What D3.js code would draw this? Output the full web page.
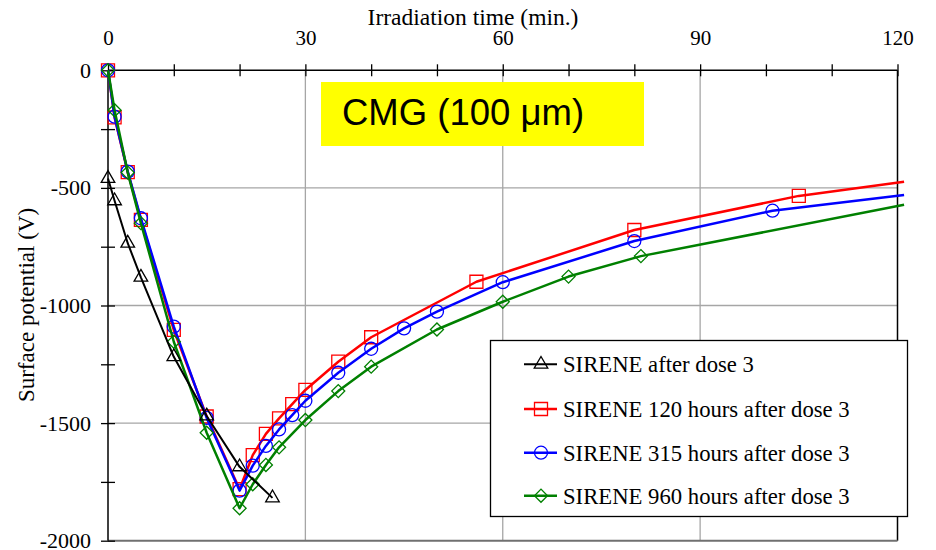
<!DOCTYPE html>
<html>
<head>
<meta charset="utf-8">
<script src="https://cdn.jsdelivr.net/npm/d3@7"></script>
<style>
  body { margin: 0; background: #fff; }
  svg { display: block; }
</style>
</head>
<body>
<div class="container"></div>
<script>
// irradiation time (min) and surface potential (V)
const blackT = [0, 1, 3, 5, 10, 15, 20, 25]
const blackV = [-460, -555, -735, -880, -1218, -1470, -1686, -1818]

const redT = [0, 1, 3, 5, 10, 15, 20, 22, 24, 26, 28, 30, 35, 40, 56, 80, 105]
const redV = [0, -200, -433, -636, -1104, -1472, -1781, -1636, -1546, -1480, -1419, -1359, -1239, -1135, -899, -679, -534]
const redEnd = [121, -474]

const blueT = [0, 1, 3, 5, 10, 15, 20, 22, 24, 26, 28, 30, 35, 40, 45, 50, 60, 80, 101]
const blueV = [0, -197, -431, -629, -1090, -1478, -1787, -1681, -1597, -1527, -1466, -1405, -1286, -1184, -1097, -1026, -901, -726, -597]
const blueEnd = [121, -530]

const greenT = [0, 1, 3, 5, 10, 15, 20, 22, 24, 26, 30, 35, 40, 50, 60, 70, 81]
const greenV = [0, -170, -435, -650, -1154, -1541, -1862, -1760, -1678, -1603, -1487, -1364, -1260, -1102, -984, -877, -790]
const greenEnd = [121, -572]

const xTicks = [0, 30, 60, 90, 120]
const yTicks = [0, -500, -1000, -1500, -2000]
const legendNames = ['SIRENE after dose 3', 'SIRENE 120 hours after dose 3',
                     'SIRENE 315 hours after dose 3', 'SIRENE 960 hours after dose 3']

const serif = "'Liberation Serif', 'Times New Roman', serif"

const svg = d3.select('.container').append('svg')
  .attr('width', 936)
  .attr('height', 550)

const x = d3.scaleLinear().domain([0, 120]).range([108, 897.5])
const y = d3.scaleLinear().domain([-2000, 0]).range([540.7, 70.3])

// grid
svg.append('g').selectAll('line')
  .data(xTicks.filter(d => d > 0 && d < 120))
  .enter().append('line')
  .attr('x1', d => x(d)).attr('x2', d => x(d))
  .attr('y1', y(0)).attr('y2', y(-2000))
  .attr('stroke', '#a6a6a6').attr('stroke-width', 1.3)
svg.append('g').selectAll('line')
  .data(yTicks.filter(d => d < 0 && d > -2000))
  .enter().append('line')
  .attr('x1', x(0)).attr('x2', x(120))
  .attr('y1', d => y(d)).attr('y2', d => y(d))
  .attr('stroke', '#a6a6a6').attr('stroke-width', 1.3)

// frame: right and bottom
svg.append('line')
  .attr('x1', x(120)).attr('x2', x(120)).attr('y1', y(0)).attr('y2', y(-2000))
  .attr('stroke', '#000').attr('stroke-width', 1.5)
svg.append('line')
  .attr('x1', x(0)).attr('x2', x(120)).attr('y1', y(-2000)).attr('y2', y(-2000))
  .attr('stroke', '#707070').attr('stroke-width', 2)

// x axis on top
const xAxis = svg.append('g')
  .attr('transform', `translate(0,${y(0)})`)
  .call(d3.axisTop(x)
    .tickValues(d3.range(0, 121, 10))
    .tickSize(6)
    .tickPadding(19)
    .tickFormat(d => d % 30 === 0 ? d : ''))
xAxis.select('.domain').attr('stroke', '#000').attr('stroke-width', 1.5)
  .attr('d', `M${x(0)},0H${x(120)}`)
xAxis.selectAll('.tick line').attr('y1', 6).attr('stroke-width', 1.3)
xAxis.selectAll('.tick text')
  .style('font-family', serif).style('font-size', '21px').attr('fill', '#000')

// y axis
const yAxis = svg.append('g')
  .attr('transform', `translate(${x(0)},0)`)
  .call(d3.axisLeft(y)
    .tickValues(d3.range(-2000, 1, 250))
    .tickSize(7)
    .tickPadding(10)
    .tickFormat(d => d % 500 === 0 ? d : ''))
yAxis.select('.domain').attr('stroke', '#000').attr('stroke-width', 1.5)
  .attr('d', `M0,${y(0)}V${y(-2000)}`)
yAxis.selectAll('.tick line').attr('x1', 7).attr('stroke-width', 1.3)
yAxis.selectAll('.tick text')
  .style('font-family', serif).style('font-size', '22px').attr('fill', '#000')

// axis titles
svg.append('text')
  .attr('x', 473).attr('y', 25)
  .attr('text-anchor', 'middle')
  .style('font-family', serif).style('font-size', '23.5px')
  .text('Irradiation time (min.)')
svg.append('text')
  .attr('transform', 'translate(34,305) rotate(-90)')
  .attr('text-anchor', 'middle')
  .style('font-family', serif).style('font-size', '23px')
  .text('Surface potential (V)')

// label box
svg.append('rect')
  .attr('x', 321).attr('y', 82).attr('width', 323).attr('height', 64)
  .attr('fill', '#ffff00')
svg.append('text')
  .attr('x', 342).attr('y', 125)
  .style('font-family', "'Liberation Sans', Arial, sans-serif").style('font-size', '36.5px')
  .text('CMG (100 \u03bcm)')

// series
const sq = d3.symbol().type(d3.symbolSquare).size(169)
const circ = d3.symbol().type(d3.symbolCircle).size(133)
const dia = d3.symbol().type(d3.symbolSquare).size(85)
const tri = d3.symbol().type(d3.symbolTriangle).size(80)

const series = [
  { t: redT, v: redV, end: redEnd, color: '#ff0000', width: 2.5, sym: sq, rot: 0 },
  { t: blueT, v: blueV, end: blueEnd, color: '#0000ff', width: 2.5, sym: circ, rot: 0 },
  { t: greenT, v: greenV, end: greenEnd, color: '#008000', width: 2.5, sym: dia, rot: 45 },
  { t: blackT, v: blackV, end: null, color: '#000', width: 2, sym: tri, rot: 0 }
]

const line = d3.line().x(d => x(d[0])).y(d => y(d[1]))

series.forEach(s => {
  const pts = s.t.map((t, i) => [t, s.v[i]])
  const linePts = s.end ? pts.concat([s.end]) : pts
  svg.append('path')
    .datum(linePts)
    .attr('d', line)
    .attr('fill', 'none')
    .attr('stroke', s.color)
    .attr('stroke-width', s.width)
    .attr('stroke-linejoin', 'round')
  svg.append('g').selectAll('path')
    .data(pts)
    .enter().append('path')
    .attr('d', s.sym)
    .attr('transform', d => `translate(${x(d[0])},${y(d[1])}) rotate(${s.rot})`)
    .attr('fill', 'none')
    .attr('stroke', s.color)
    .attr('stroke-width', 1.3)
})

// legend
svg.append('rect')
  .attr('x', 490.5).attr('y', 340.5).attr('width', 417).attr('height', 176)
  .attr('fill', '#fff').attr('stroke', '#000').attr('stroke-width', 1.3)

const legendOrder = [3, 0, 1, 2]
const legendY = [364.3, 409, 452.7, 495.7]
legendOrder.forEach((si, i) => {
  const s = series[si]
  const g = svg.append('g').attr('transform', `translate(0,${legendY[i]})`)
  g.append('line')
    .attr('x1', 524).attr('x2', 557).attr('y1', 0).attr('y2', 0)
    .attr('stroke', s.color).attr('stroke-width', s.width)
  g.append('path')
    .attr('d', s.sym)
    .attr('transform', `translate(541,0) rotate(${s.rot})`)
    .attr('fill', 'none').attr('stroke', s.color).attr('stroke-width', 1.3)
  g.append('text')
    .attr('x', 563).attr('y', 8)
    .style('font-family', serif).style('font-size', '22.7px')
    .text(legendNames[i])
})
</script>
</body>
</html>
